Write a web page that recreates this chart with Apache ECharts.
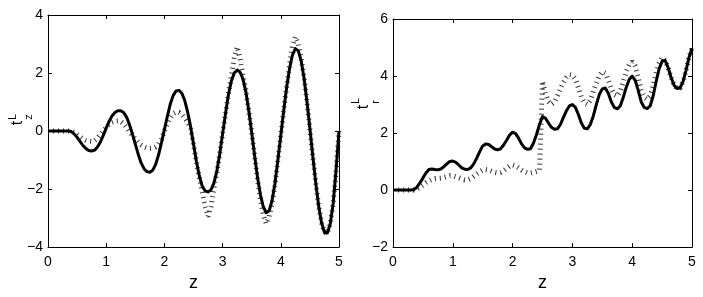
<!DOCTYPE html>
<html><head><meta charset="utf-8">
<script src="https://cdn.jsdelivr.net/npm/echarts@6/dist/echarts.min.js"></script>
<style>html,body{margin:0;padding:0;background:#fff}#c{width:703px;height:297px}</style>
</head><body><div id="c"></div>
<script>
const Z = [0,0.05,0.1,0.15,0.2,0.25,0.3,0.35,0.4,0.45,0.5,0.55,0.6,0.65,0.7,0.75,0.8,0.85,0.9,0.95,
1,1.05,1.1,1.15,1.2,1.25,1.3,1.35,1.4,1.45,1.5,1.55,1.6,1.65,1.7,1.75,1.8,1.85,1.9,1.95,
2,2.05,2.1,2.15,2.2,2.25,2.3,2.35,2.4,2.45,2.5,2.55,2.6,2.65,2.7,2.75,2.8,2.85,2.9,2.95,
3,3.05,3.1,3.15,3.2,3.25,3.3,3.35,3.4,3.45,3.5,3.55,3.6,3.65,3.7,3.75,3.8,3.85,3.9,3.95,
4,4.05,4.1,4.15,4.2,4.25,4.3,4.35,4.4,4.45,4.5,4.55,4.6,4.65,4.7,4.75,4.8,4.85,4.9,4.95,5];

const leftSolid = [0,0,0,0,0,0,0,0,-0.02,-0.1,-0.22,-0.36,-0.5,-0.6,-0.67,-0.69,-0.66,-0.55,-0.38,-0.15,
0.1,0.33,0.52,0.64,0.7,0.7,0.64,0.48,0.22,-0.1,-0.45,-0.8,-1.1,-1.3,-1.4,-1.42,-1.35,-1.15,-0.82,-0.4,
0.05,0.5,0.92,1.22,1.38,1.4,1.3,1.05,0.65,0.15,-0.45,-1.05,-1.55,-1.9,-2.07,-2.1,-2.03,-1.8,-1.4,-0.8,
-0.1,0.6,1.25,1.72,2.0,2.1,2.03,1.8,1.35,0.7,-0.05,-0.85,-1.6,-2.2,-2.62,-2.82,-2.75,-2.4,-1.8,-1.0,
-0.15,0.7,1.5,2.15,2.62,2.84,2.77,2.42,1.82,1.0,0.08,-0.88,-1.78,-2.58,-3.17,-3.5,-3.52,-3.2,-2.5,-1.35,0.0];

const leftDotted = [0,0,0,0,0,0,0,0,0,-0.05,-0.12,-0.2,-0.27,-0.32,-0.35,-0.36,-0.33,-0.25,-0.12,0.0,
0.12,0.22,0.3,0.34,0.35,0.33,0.25,0.12,-0.02,-0.15,-0.28,-0.4,-0.48,-0.55,-0.59,-0.6,-0.59,-0.55,-0.45,-0.28,
0.0,0.25,0.45,0.6,0.65,0.64,0.57,0.45,0.3,0.1,-0.45,-1.05,-1.6,-2.1,-2.6,-2.95,-2.6,-2.0,-1.45,-0.8,
-0.1,0.6,1.3,1.9,2.5,2.9,2.5,1.95,1.4,0.7,-0.05,-0.85,-1.65,-2.35,-2.9,-3.2,-2.95,-2.5,-1.85,-1.0,
-0.15,0.7,1.5,2.3,2.9,3.25,3.0,2.5,1.85,1.0,0.08,-0.88,-1.78,-2.58,-3.17,-3.5,-3.52,-3.2,-2.5,-1.35,0.0];

const rightSolid = [0,0,0,0,0,0,0,0.02,0.1,0.25,0.42,0.6,0.72,0.74,0.72,0.71,0.74,0.82,0.92,1.0,
1.02,0.97,0.88,0.78,0.73,0.72,0.78,0.92,1.12,1.35,1.55,1.62,1.6,1.52,1.44,1.41,1.45,1.58,1.75,1.93,
2.03,1.98,1.82,1.62,1.48,1.43,1.45,1.65,1.95,2.3,2.58,2.52,2.35,2.2,2.13,2.15,2.3,2.55,2.78,2.95,
3.0,2.9,2.65,2.35,2.17,2.15,2.3,2.6,3.0,3.35,3.55,3.58,3.4,3.1,2.9,2.85,2.95,3.25,3.6,3.88,
4.0,3.85,3.5,3.1,2.9,2.86,2.95,3.3,3.8,4.25,4.52,4.55,4.3,3.95,3.68,3.56,3.58,3.8,4.2,4.65,4.98];

const rightDotted = [0,0,0,0,0,0,0,0,0.03,0.1,0.18,0.26,0.32,0.37,0.4,0.41,0.42,0.44,0.47,0.5,
0.5,0.47,0.43,0.39,0.36,0.36,0.4,0.48,0.56,0.64,0.7,0.72,0.7,0.66,0.62,0.6,0.62,0.68,0.76,0.84,
0.88,0.85,0.78,0.7,0.64,0.6,0.6,0.62,0.65,0.68,3.82,3.4,3.1,3.0,3.08,3.3,3.55,3.78,3.95,4.05,
4.03,3.9,3.6,3.25,3.05,3.0,3.15,3.45,3.75,4.0,4.15,4.1,3.85,3.55,3.35,3.3,3.45,3.8,4.15,4.4,
4.5,4.35,3.95,3.5,3.25,3.18,3.3,3.65,4.1,4.45,4.65,4.55,4.3,3.95,3.68,3.56,3.58,3.8,4.2,4.65,4.98];

const xTicks = {min:0, max:5, interval:1};
const leftY = {min:-4, max:4, interval:2};
const rightY = {min:-2, max:6, interval:2};

const FONT = 'Liberation Sans';
const pairs = (xs, ys) => xs.map((x, i) => [x, ys[i]]);
const minus = v => String(v).replace('-', '\u2212');
const line = {show:true, onZero:false, lineStyle:{color:'#000', width:1}};
const tick = {show:true, inside:true, length:4, lineStyle:{color:'#000', width:1}};
const lbl = {color:'#000', fontSize:14, fontFamily:FONT, formatter:minus};

function xAxes(g){
  return [
    {gridIndex:g, type:'value', position:'bottom', ...xTicks, axisLine:line, axisTick:tick,
     axisLabel:{...lbl, margin:8}, splitLine:{show:false},
     name:'z', nameLocation:'middle', nameGap:22,
     nameTextStyle:{color:'#000', fontSize:18, fontFamily:FONT}},
    {gridIndex:g, type:'value', position:'top', ...xTicks, axisLine:line, axisTick:tick,
     axisLabel:{show:false}, splitLine:{show:false}}
  ];
}
function yAxes(g, r){
  return [
    {gridIndex:g, type:'value', position:'left', ...r, axisLine:line, axisTick:tick,
     axisLabel:{...lbl, margin:5}, splitLine:{show:false}},
    {gridIndex:g, type:'value', position:'right', ...r, axisLine:line, axisTick:tick,
     axisLabel:{show:false}, splitLine:{show:false}}
  ];
}
const solidStyle = {color:'#000', width:3, join:'round'};
const dotStyle = {color:'#333', width:5, type:[1,4], cap:'butt'};
function ser(xi, yi, data, style, z){
  return {type:'line', xAxisIndex:xi, yAxisIndex:yi, data:data, showSymbol:false, symbol:'none',
    lineStyle:style, z:z, silent:true, animation:false};
}
function txt(x, y, s, size){
  return {type:'text', x:x, y:y, rotation:Math.PI/2,
    style:{text:s, fill:'#000', font:size+'px "'+FONT+'"', align:'center', verticalAlign:'middle'}};
}

const chart = echarts.init(document.getElementById('c'));
chart.setOption({
  animation:false,
  backgroundColor:'#fff',
  grid:[
    {left:48, top:15, width:291, height:232},
    {left:393, top:19, width:299, height:230}
  ],
  xAxis:[...xAxes(0), ...xAxes(1)],
  yAxis:[...yAxes(0, leftY), ...yAxes(1, rightY)],
  series:[
    ser(0, 0, pairs(Z, leftDotted), dotStyle, 2),
    ser(0, 0, pairs(Z, leftSolid), solidStyle, 3),
    ser(2, 2, pairs(Z, rightDotted), dotStyle, 2),
    ser(2, 2, pairs(Z, rightSolid), solidStyle, 3)
  ],
  graphic:[
    txt(18, 123, 't', 16), txt(13, 117, 'L', 10), txt(29, 117, 'z', 11),
    txt(364, 107, 't', 16), txt(356, 101, 'L', 10), txt(376, 102, 'r', 11)
  ]
});
</script></body></html>
